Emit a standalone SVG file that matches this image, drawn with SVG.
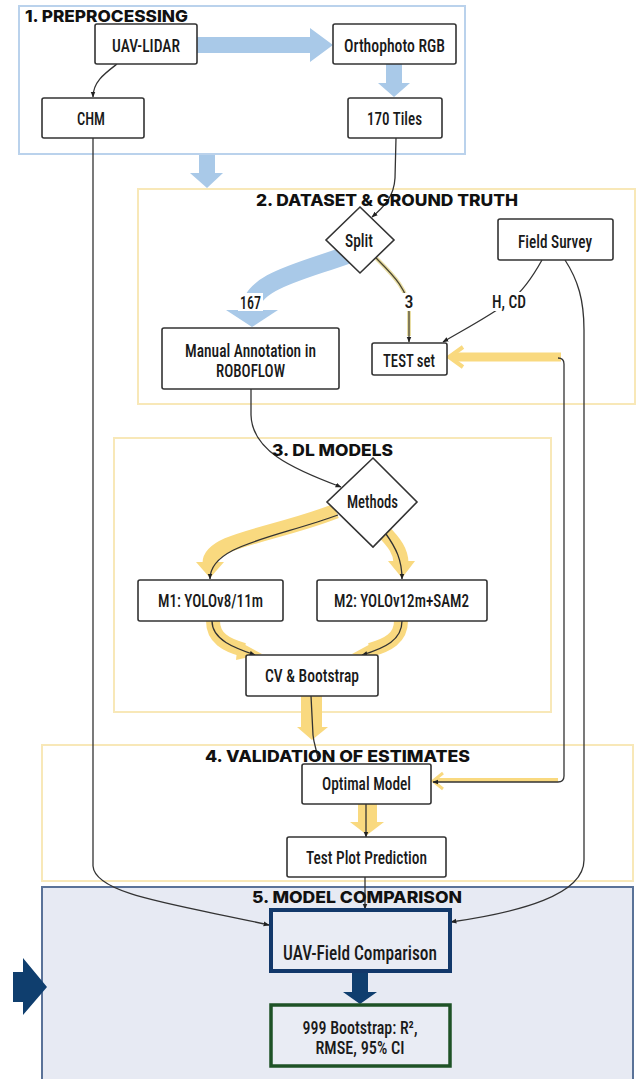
<svg xmlns="http://www.w3.org/2000/svg" width="636" height="1079" viewBox="0 0 636 1079">
<style>
.frame{fill:#fff;stroke-width:2}
.f1{stroke:#bad2ec}
.fy{stroke:#f8e8b8}
.f5{fill:#e7eaf3;stroke:#5a7298}
.title{font-family:Inter,'Open Sans','Liberation Sans',sans-serif;font-weight:800;font-size:16px;fill:#111}
.box{fill:#fff;stroke:#333;stroke-width:1.6}
.nt{font-family:'Liberation Sans Narrow','Roboto Condensed','DejaVu Sans Condensed',Roboto,'Liberation Sans',sans-serif;font-size:18px;font-weight:500;fill:#1a1a1a;text-anchor:middle}
.lbl{font-family:'Liberation Sans Narrow','Roboto Condensed','DejaVu Sans Condensed',Roboto,'Liberation Sans',sans-serif;font-size:18px;font-weight:500;fill:#1a1a1a;text-anchor:middle}
.ln{fill:none;stroke:#333;stroke-width:1.3}
.blue{fill:#a9c9e8}
.bluel{fill:none;stroke:#a9c9e8}
.yel{fill:none;stroke:#f9d97f;stroke-linecap:butt}
.yf{fill:#f9d97f}
.navy{fill:#0f3e6e}
</style>
<defs>
<marker id="ah" viewBox="0 0 10 10" refX="9" refY="5" markerWidth="6" markerHeight="6" orient="auto" markerUnits="userSpaceOnUse">
<path d="M0,1 L10,5 L0,9 Z" fill="#222"/>
</marker>
</defs>

<g id="sections">
<rect id="sec1" class="frame f1" x="19" y="6" width="446" height="148"/>
<rect id="sec2" class="frame fy" x="138" y="189" width="497" height="215"/>
<rect id="sec3" class="frame fy" x="114" y="438" width="437" height="274"/>
<rect id="sec4" class="frame fy" x="42" y="745" width="591" height="136"/>
<rect id="sec5" class="frame f5" x="42" y="887" width="591" height="200"/>
</g>

<g id="connectors">
<path class="blue" d="M197,37 L310,37 L310,28 L333,45 L310,62 L310,53 L197,53 Z"/>
<path class="blue" d="M386,64 L402,64 L402,83 L410,83 L394,97 L378,83 L386,83 Z"/>
<path class="blue" d="M199,155 L215,155 L215,173 L223,173 L207,188 L190,173 L199,173 Z"/>
<path class="bluel" stroke-width="18" d="M347,255 C300,272 250,282 250,311"/>
<path class="blue" d="M226,310 L278,310 L252,327 Z"/>

<path class="ln" marker-end="url(#ah)" d="M117,64 C104,74 93,82 93,97"/>
<path class="ln" marker-end="url(#ah)" d="M396,138 L395,178 C394,196 385,206 372,217"/>
<path fill="none" stroke="#e9dea4" stroke-width="4" d="M376,258 C392,274 409,290 409,312 L409,336"/>
<path fill="none" stroke="#4b4632" stroke-width="1.3" marker-end="url(#ah)" d="M376,258 C392,274 409,290 409,312 L409,342"/>
<path class="ln" marker-end="url(#ah)" d="M542,260 C532,278 522,292 510,301 C490,316 465,329 443,342"/>
<path class="ln" marker-end="url(#ah)" d="M565,260 C578,280 584,300 584,330 L584,860 C584,895 520,912 451,922"/>
<path class="yel" stroke-width="9" stroke-linecap="round" d="M561,357 L452,357"/>
<path fill="none" stroke="#f9d97f" stroke-width="4" d="M463,347 L449,357 L463,367"/>
<path fill="none" stroke="#f9d97f" stroke-width="4" d="M558,780 L436,780"/>
<path fill="none" stroke="#f9d97f" stroke-width="3" d="M443,773 L433,781 L443,789"/>
<path class="ln" marker-end="url(#ah)" d="M558,358 Q564,358 564,364 L564,776 Q564,782 558,782 L433,782"/>
<path class="ln" marker-end="url(#ah)" d="M93,138 L93,866 C95,895 180,905 269,925"/>
<path class="ln" marker-end="url(#ah)" d="M251,389 L251,415 C252,450 290,468 341,487"/>
<path class="yel" stroke-width="15" d="M336,511 C275,535 210,540 210,563"/>
<path class="yf" d="M196,562 L224,562 L210,578 Z"/>
<path class="ln" marker-end="url(#ah)" d="M338,515 C275,538 210,545 210,579"/>
<path class="yel" stroke-width="15" d="M382,530 C395,543 401,552 401,563"/>
<path class="yf" d="M388,561 L415,561 L402,578 Z"/>
<path class="ln" marker-end="url(#ah)" d="M386,534 C396,548 402,560 402,579"/>
<path class="yel" stroke-width="14" d="M213,621 C213,638 226,645 244,650"/>
<path class="yf" d="M238,641 L262,654 L236,660 Z"/>
<path class="ln" marker-end="url(#ah)" d="M212,621 C212,640 235,648 255,655"/>
<path class="yel" stroke-width="14" d="M401,621 C401,638 388,645 370,650"/>
<path class="yf" d="M376,641 L352,654 L378,660 Z"/>
<path class="ln" marker-end="url(#ah)" d="M402,621 C402,640 385,648 362,655"/>
<path class="yf" d="M301,696 L322,696 L322,727 L328,727 L312,740 L297,727 L301,727 Z"/>
<path class="ln" d="M311,696 L313,735 C314,745 317,750 318,760"/>
<path class="yf" d="M358,804 L377,804 L377,822 L384,822 L367,835 L350,822 L358,822 Z"/>
<path class="ln" marker-end="url(#ah)" d="M366,804 L366,837"/>
<path class="ln" marker-end="url(#ah)" d="M365,877 L365,909"/>
<path class="navy" d="M352,971 L368,971 L368,992 L377,992 L360,1004 L343,992 L352,992 Z"/>
<path class="navy" d="M13,972 L23,972 L23,958 L47,987 L23,1015 L23,1002 L13,1002 Z"/>
</g>

<g id="labels">
<rect x="238" y="293" width="25" height="18" fill="#fff"/>
<text class="lbl" x="250.5" y="309" textLength="21" lengthAdjust="spacingAndGlyphs">167</text>
<rect x="402" y="293" width="14" height="18" fill="#fff"/>
<text class="lbl" x="409" y="308">3</text>
<rect x="489" y="292" width="40" height="19" fill="#fff"/>
<text class="lbl" x="509" y="308" textLength="34" lengthAdjust="spacingAndGlyphs">H, CD</text>
</g>

<g id="n-uav-lidar"><rect class="box" x="95" y="24" width="102" height="40" rx="2"/><text class="nt" x="146" y="52" textLength="68" lengthAdjust="spacingAndGlyphs">UAV-LIDAR</text></g>
<g id="n-ortho"><rect class="box" x="333" y="24" width="123" height="40" rx="2"/><text class="nt" x="394.5" y="52" textLength="101" lengthAdjust="spacingAndGlyphs">Orthophoto RGB</text></g>
<g id="n-chm"><rect class="box" x="42" y="98" width="102" height="40" rx="2"/><text class="nt" x="91" y="125" textLength="28" lengthAdjust="spacingAndGlyphs">CHM</text></g>
<g id="n-tiles"><rect class="box" x="348" y="98" width="94" height="40" rx="2"/><text class="nt" x="394.5" y="125" textLength="55" lengthAdjust="spacingAndGlyphs">170 Tiles</text></g>
<g id="n-split"><polygon class="box" points="360,207 394,240 360,273 326,240"/><text class="nt" x="359" y="247" textLength="28" lengthAdjust="spacingAndGlyphs">Split</text></g>
<g id="n-field"><rect class="box" x="498" y="219" width="115" height="41" rx="2"/><text class="nt" x="555" y="248" textLength="74" lengthAdjust="spacingAndGlyphs">Field Survey</text></g>
<g id="n-manual"><rect class="box" x="162" y="328" width="177" height="61" rx="2"/><text class="nt" x="250.5" y="357" textLength="131" lengthAdjust="spacingAndGlyphs">Manual Annotation in</text><text class="nt" x="250.5" y="377" textLength="69" lengthAdjust="spacingAndGlyphs">ROBOFLOW</text></g>
<g id="n-test"><rect class="box" x="372" y="343" width="75" height="32" rx="2"/><text class="nt" x="409" y="367" textLength="52" lengthAdjust="spacingAndGlyphs">TEST set</text></g>
<g id="n-methods"><polygon class="box" points="373,458 417,502 373,547 327,502"/><text class="nt" x="372.5" y="508" textLength="51" lengthAdjust="spacingAndGlyphs">Methods</text></g>
<g id="n-m1"><rect class="box" x="138" y="580" width="145" height="41" rx="2"/><text class="nt" x="210.5" y="607" textLength="105" lengthAdjust="spacingAndGlyphs">M1: YOLOv8/11m</text></g>
<g id="n-m2"><rect class="box" x="317" y="580" width="170" height="41" rx="2"/><text class="nt" x="401.5" y="607" textLength="135" lengthAdjust="spacingAndGlyphs">M2: YOLOv12m+SAM2</text></g>
<g id="n-cv"><rect class="box" x="246" y="655" width="132" height="41" rx="2"/><text class="nt" x="312" y="682" textLength="94" lengthAdjust="spacingAndGlyphs">CV &amp; Bootstrap</text></g>
<g id="n-optimal"><rect class="box" x="302" y="764" width="129" height="40" rx="2"/><text class="nt" x="366.5" y="790" textLength="89" lengthAdjust="spacingAndGlyphs">Optimal Model</text></g>
<g id="n-testplot"><rect class="box" x="287" y="837" width="159" height="40" rx="2"/><text class="nt" x="366.5" y="864" textLength="121" lengthAdjust="spacingAndGlyphs">Test Plot Prediction</text></g>
<g id="n-uavfield"><rect x="271" y="910" width="179" height="61" fill="#e9ecf4" stroke="#12386a" stroke-width="4"/><text class="nt" x="360" y="960" style="font-size:20px" textLength="154" lengthAdjust="spacingAndGlyphs">UAV-Field Comparison</text></g>
<g id="n-bootstrap"><rect x="271" y="1005" width="179" height="61" fill="#e9ecf4" stroke="#1e5226" stroke-width="3.5"/><text class="nt" x="360" y="1034" textLength="115" lengthAdjust="spacingAndGlyphs">999 Bootstrap: R²,</text><text class="nt" x="360" y="1054" textLength="89" lengthAdjust="spacingAndGlyphs">RMSE, 95% CI</text></g>

<g id="titles">
<text class="title" x="25" y="22" textLength="163" lengthAdjust="spacingAndGlyphs">1. PREPROCESSING</text>
<text class="title" x="387" y="206" text-anchor="middle" textLength="262" lengthAdjust="spacingAndGlyphs">2. DATASET &amp; GROUND TRUTH</text>
<text class="title" x="332.5" y="456" text-anchor="middle" textLength="121" lengthAdjust="spacingAndGlyphs">3. DL MODELS</text>
<text class="title" x="337.5" y="762" text-anchor="middle" textLength="265" lengthAdjust="spacingAndGlyphs">4. VALIDATION OF ESTIMATES</text>
<text class="title" x="357" y="903" text-anchor="middle" textLength="210" lengthAdjust="spacingAndGlyphs">5. MODEL COMPARISON</text>
</g>
</svg>
